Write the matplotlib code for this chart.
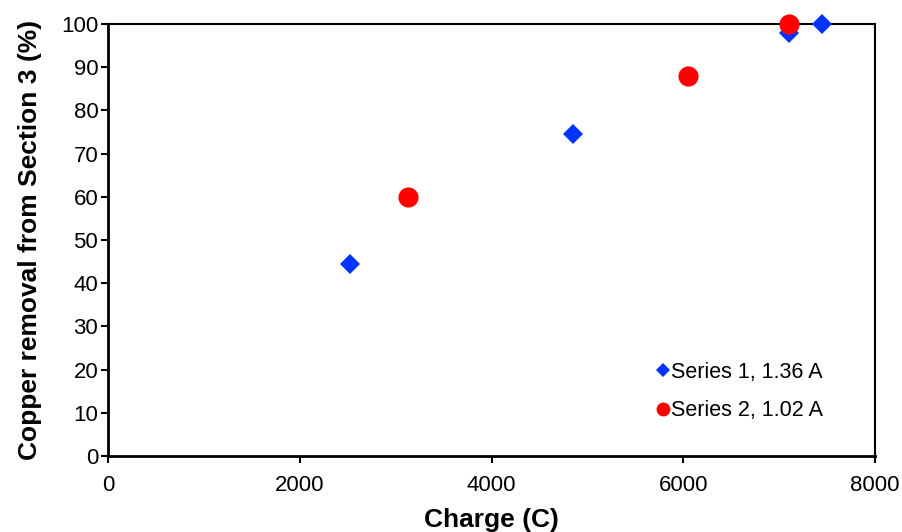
import matplotlib
matplotlib.use("Agg")
from matplotlib import pyplot as plt
from matplotlib.lines import Line2D

plt.rcParams['font.family'] = ['Liberation Sans', 'DejaVu Sans']

# charge (C) vs copper removal (%)
s1_charge = [2520, 4850, 7100, 7450]
s1_removal = [44.5, 74.5, 98, 100]
s2_charge = [3130, 6050, 7100]
s2_removal = [60, 88, 100]

blue = "#0033ff"
red = "#ff0000"

fig = plt.figure(figsize=(9.02, 5.32), dpi=100)
ax = fig.add_axes([108/902, 1 - 456/532, (875-108)/902, (456-24)/532])

ax.plot(s1_charge, s1_removal, linestyle="none", marker="D", markersize=10,
        color=blue, markeredgewidth=0, clip_on=False, zorder=3)
ax.plot(s2_charge, s2_removal, linestyle="none", marker="o", markersize=14.5,
        color=red, markeredgewidth=0, clip_on=False, zorder=4)

ax.set_xlim(0, 8000)
ax.set_ylim(0, 100)
ax.set_xticks(range(0, 8001, 2000))
ax.set_yticks(range(0, 101, 10))
ax.tick_params(direction="out", length=5, width=1.5, labelsize=16, colors="black")
ax.tick_params(axis="x", pad=9)
ax.tick_params(axis="y", pad=2)

ax.spines["left"].set_linewidth(2)
ax.spines["bottom"].set_linewidth(2)
ax.spines["top"].set_linewidth(1.5)
ax.spines["right"].set_linewidth(1.5)

ax.set_xlabel("Charge (C)", fontsize=19, fontweight="bold", labelpad=8)
ax.set_ylabel("Copper removal from Section 3 (%)", fontsize=19, fontweight="bold", labelpad=14)

handles = [
    Line2D([], [], linestyle="none", marker="D", markersize=7, color=blue, markeredgewidth=0),
    Line2D([], [], linestyle="none", marker="o", markersize=10, color=red, markeredgewidth=0),
]
ax.legend(handles, ["Series 1, 1.36 A", "Series 2, 1.02 A"], loc="lower right",
          bbox_to_anchor=(0.958, 0.036), frameon=False, fontsize=15.5, handlelength=0.6,
          handletextpad=0.1, labelspacing=0.8)

fig.savefig("out.png", dpi=100)
